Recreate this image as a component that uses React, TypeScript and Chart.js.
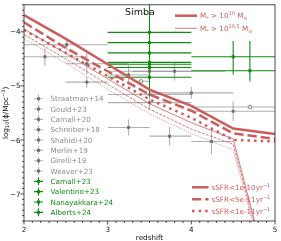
import React, { useEffect, useRef } from 'react';
import { Chart, registerables } from 'chart.js';
Chart.register(...registerables);

const FONT = '"DejaVu Sans", sans-serif';
const RED = '#cd5c5c';
const GRAY_BAR = 'rgba(128,128,128,0.62)';
const GRAY_MARK = 'rgba(105,105,105,0.9)';
const GRAY_TEXT = '#8c8c8c';
const GREEN = '#118a11';

// Simba model curves: log10(phi / Mpc^-3) vs redshift
const redshift = [2, 2.5, 3, 3.5, 4, 4.5, 5];
const m10_s1e10 = [-3.69, -4.13, -4.6, -5.07, -5.37, -5.79, -5.89];
const m10_s5e11 = [-3.825, -4.3, -4.73, -5.16, -5.46, -5.88, -5.98];
const m10_s1e11 = [-3.965, -4.39, -4.82, -5.25, -5.59, -6.0, -6.03];
const m105_s1e10 = [-3.95, -4.4, -4.87, -5.33, -5.68, -5.98, -8.95];
const m105_s5e11 = [-4.05, -4.5, -4.97, -5.43, -5.8, -6.08, -9.0];
const m105_s1e11 = [-4.13, -4.58, -5.06, -5.52, -5.88, -6.18, -9.05];

// observations: [z, logphi, zLow, zHigh, logphiLow, logphiHigh]
const straatman14 = [[2.51, -4.24, 2.0, 3.0, -4.34, -4.14], [4.0, -5.13, 3.5, 4.5, -5.24, -5.02]];
const gould23 = [[3.4, -4.915, 3.3, 3.5, -4.95, -4.88], [4.7, -5.39, 4.0, 5.3, -5.43, -5.35]];
const carnall20 = [[2.25, -4.46, 2.0, 2.75, -4.63, -4.29], [3.5, -4.73, 3.0, 4.0, -4.87, -4.59]];
const schreiber18 = [[2.75, -4.59, 2.5, 3.25, -4.79, -4.39], [4.5, -5.47, 4.0, 5.0, -5.65, -5.29]];
const shahidi20 = [[2.75, -4.93, 2.5, 3.0, -5.03, -4.83], [3.5, -5.16, 3.0, 4.0, -5.22, -5.1]];
const merlin19 = [[3.25, -5.77, 3.0, 3.5, -5.92, -5.62], [3.74, -5.93, 3.5, 4.0, -6.1, -5.76], [4.24, -6.03, 4.0, 4.5, -6.26, -5.8]];
const girelli19 = [[3.25, -4.8, 3.0, 3.5, -4.98, -4.62], [3.5, -5.31, 3.0, 4.0, -5.44, -5.18]];
const weaver23 = [[3.8, -4.73, 3.3, 4.4, -4.9, -4.56]];
const carnall23 = [[3.5, -4.01, 3.0, 4.0, -4.6, -3.3], [3.5, -4.84, 3.0, 4.0, -5.19, -4.4]];
const valentino23 = [[3.5, -4.2, 3.0, 4.0, -4.25, -4.15], [4.5, -4.46, 4.0, 5.0, -4.79, -4.17]];
const nanayakkara24 = [[3.5, -4.39, 3.0, 4.0, -4.44, -4.34], [3.5, -4.565, 3.0, 4.0, -4.6, -4.53], [4.7, -4.72, 4.0, 5.0, -4.92, -4.17]];
const alberts24 = [[3.5, -4.6, 3.0, 4.0, -4.64, -4.56], [3.5, -4.66, 3.0, 4.0, -4.7, -4.62]];

const xTicks = [2, 3, 4, 5];
const yTicks = [-4, -5, -6, -7];

const observations = [
  { label: 'Straatman+14', pts: straatman14, green: false, style: 'rect' },
  { label: 'Gould+23', pts: gould23, green: false, style: 'circle' },
  { label: 'Carnall+20', pts: carnall20, green: false, style: 'rect' },
  { label: 'Schreiber+18', pts: schreiber18, green: false, style: 'rect' },
  { label: 'Shahidi+20', pts: shahidi20, green: false, style: 'rectRot' },
  { label: 'Merlin+19', pts: merlin19, green: false, style: 'rect' },
  { label: 'Girelli+19', pts: girelli19, green: false, style: 'rect' },
  { label: 'Weaver+23', pts: weaver23, green: false, style: 'rect' },
  { label: 'Carnall+23', pts: carnall23, green: true, style: 'rect' },
  { label: 'Valentino+23', pts: valentino23, green: true, style: 'rect' },
  { label: 'Nanayakkara+24', pts: nanayakkara24, green: true, style: 'rect' },
  { label: 'Alberts+24', pts: alberts24, green: true, style: 'rect' },
];

type Seg = { t: string; s?: number; dy?: number };

function drawRich(ctx: CanvasRenderingContext2D, segs: Seg[], x: number, yBase: number, size: number, color: string, align: 'left' | 'center' | 'right') {
  let total = 0;
  const widths = segs.map((g) => {
    ctx.font = `${size * (g.s || 1)}px ${FONT}`;
    const w = ctx.measureText(g.t).width;
    total += w;
    return w;
  });
  let cx = align === 'left' ? x : align === 'center' ? x - total / 2 : x - total;
  ctx.fillStyle = color;
  ctx.textAlign = 'left';
  ctx.textBaseline = 'alphabetic';
  segs.forEach((g, i) => {
    ctx.font = `${size * (g.s || 1)}px ${FONT}`;
    ctx.fillText(g.t, cx, yBase + (g.dy || 0));
    cx += widths[i];
  });
}

const decor = {
  id: 'decor',
  beforeDatasetsDraw(chart: any) {
    const { ctx, chartArea: a } = chart;
    const x = chart.scales.x;
    const y = chart.scales.y;
    ctx.save();
    ctx.beginPath();
    ctx.rect(a.left, a.top, a.right - a.left, a.bottom - a.top);
    ctx.clip();
    ctx.lineWidth = 1.1;
    for (const s of observations) {
      ctx.strokeStyle = s.green ? GREEN : GRAY_BAR;
      for (const p of s.pts) {
        const px = x.getPixelForValue(p[0]);
        const py = y.getPixelForValue(p[1]);
        ctx.beginPath();
        ctx.moveTo(x.getPixelForValue(p[2]), py);
        ctx.lineTo(x.getPixelForValue(p[3]), py);
        ctx.moveTo(px, y.getPixelForValue(p[4]));
        ctx.lineTo(px, y.getPixelForValue(p[5]));
        ctx.stroke();
      }
    }
    ctx.restore();
  },
  afterDraw(chart: any) {
    const { ctx, chartArea: a } = chart;
    const x = chart.scales.x;
    const y = chart.scales.y;
    const FS = 7.2;
    ctx.save();
    // frame
    ctx.strokeStyle = '#222';
    ctx.lineWidth = 0.8;
    ctx.strokeRect(a.left, a.top, a.right - a.left, a.bottom - a.top);
    // ticks
    ctx.beginPath();
    for (let k = 0; k <= 30; k++) {
      const v = 2 + k * 0.1;
      const px = x.getPixelForValue(v);
      const major = k % 10 === 0;
      ctx.moveTo(px, a.bottom);
      ctx.lineTo(px, a.bottom + (major ? 3.5 : 2));
    }
    for (let k = 0; k <= 40; k++) {
      const v = -7.5 + k * 0.1;
      const py = y.getPixelForValue(v);
      const major = (k - 5) % 10 === 0;
      ctx.moveTo(a.left, py);
      ctx.lineTo(a.left - (major ? 3.5 : 2), py);
    }
    ctx.stroke();
    // tick labels
    for (const t of xTicks) {
      drawRich(ctx, [{ t: String(t) }], x.getPixelForValue(t), 231.5, FS, '#111', 'center');
    }
    for (const t of yTicks) {
      drawRich(ctx, [{ t: '\u2212' + String(Math.abs(t)) }], 20.5, y.getPixelForValue(t) + 2.6, FS, '#111', 'right');
    }
    // axis titles
    drawRich(ctx, [{ t: 'redshift' }], (a.left + a.right) / 2, 240, FS, '#111', 'center');
    ctx.save();
    ctx.translate(5.2, (a.top + a.bottom) / 2);
    ctx.rotate(-Math.PI / 2);
    drawRich(ctx, [{ t: 'log' }, { t: '10', s: 0.7, dy: 1.6 }, { t: '(\u03d5/Mpc' }, { t: '\u22123', s: 0.7, dy: -3 }, { t: ')' }], 0, 2.6, FS, '#111', 'center');
    ctx.restore();
    // title
    drawRich(ctx, [{ t: 'Simba' }], 125, 14.5, 9.5, '#111', 'left');
    // mass legend
    const massRows = [
      { w: 2.5, segs: [{ t: 'M' }, { t: '*', s: 0.7, dy: 2 }, { t: ' > 10' }, { t: '10', s: 0.7, dy: -3 }, { t: ' M' }, { t: '\u2299', s: 0.7, dy: 2 }] },
      { w: 0.8, segs: [{ t: 'M' }, { t: '*', s: 0.7, dy: 2 }, { t: ' > 10' }, { t: '10.5', s: 0.7, dy: -3 }, { t: ' M' }, { t: '\u2299', s: 0.7, dy: 2 }] },
    ];
    massRows.forEach((r, i) => {
      const cy = 15.7 + i * 12.6;
      ctx.strokeStyle = RED;
      ctx.lineWidth = r.w;
      ctx.setLineDash([]);
      ctx.beginPath();
      ctx.moveTo(175, cy);
      ctx.lineTo(197, cy);
      ctx.stroke();
      drawRich(ctx, r.segs, 200, cy + 2.6, FS, RED, 'left');
    });
    // sSFR legend
    const ssfrRows = [
      { dash: [] as number[], t: 'sSFR<1e-10yr' },
      { dash: [9.25, 4], t: 'sSFR<5e-11yr' },
      { dash: [2.5, 4.1], t: 'sSFR<1e-11yr' },
    ];
    ssfrRows.forEach((r, i) => {
      const cy = 187.3 + i * 11.9;
      ctx.strokeStyle = RED;
      ctx.lineWidth = 2.5;
      ctx.setLineDash(r.dash);
      ctx.beginPath();
      ctx.moveTo(192, cy);
      ctx.lineTo(208.5, cy);
      ctx.stroke();
      ctx.setLineDash([]);
      drawRich(ctx, [{ t: r.t }, { t: '\u22121', s: 0.7, dy: -3 }], 211.5, cy + 2.6, FS, RED, 'left');
    });
    // observation legend
    observations.forEach((s, i) => {
      const cy = 98.7 + i * 10.33;
      const col = s.green ? GREEN : GRAY_BAR;
      ctx.strokeStyle = col;
      ctx.lineWidth = 1.1;
      ctx.beginPath();
      ctx.moveTo(34, cy);
      ctx.lineTo(43, cy);
      ctx.moveTo(38.5, cy - 4);
      ctx.lineTo(38.5, cy + 4);
      ctx.stroke();
      ctx.fillStyle = s.green ? GREEN : GRAY_MARK;
      ctx.fillRect(37, cy - 1.5, 3, 3);
      drawRich(ctx, [{ t: s.label }], 50.5, cy + 2.6, FS, s.green ? GREEN : GRAY_TEXT, 'left');
    });
    ctx.restore();
  },
};

function lineDs(ys: number[], width: number, dash: number[]) {
  return {
    type: 'scatter' as const,
    data: redshift.map((z, i) => ({ x: z, y: ys[i] })),
    showLine: true,
    borderColor: RED,
    backgroundColor: RED,
    borderWidth: width,
    borderDash: dash,
    pointRadius: 0,
    tension: 0,
    fill: false,
  };
}

export default function App() {
  const ref = useRef<HTMLCanvasElement>(null);
  useEffect(() => {
    const markerSets = observations.map((s) => ({
      type: 'scatter' as const,
      data: s.pts.map((p) => ({ x: p[0], y: p[1] })),
      showLine: false,
      pointStyle: s.style,
      pointRadius: s.style === 'circle' ? 1.8 : 2.1,
      backgroundColor: s.style === 'circle' ? 'rgba(235,235,235,1)' : s.green ? GREEN : GRAY_MARK,
      borderColor: s.green ? GREEN : GRAY_MARK,
      borderWidth: s.style === 'circle' ? 0.8 : 0,
    }));
    const chart = new Chart(ref.current as HTMLCanvasElement, {
      type: 'scatter',
      data: {
        datasets: [
          lineDs(m10_s1e10, 2.5, []),
          lineDs(m10_s5e11, 2.5, [9.25, 4]),
          lineDs(m10_s1e11, 2.5, [2.5, 4.1]),
          lineDs(m105_s1e10, 0.8, []),
          lineDs(m105_s5e11, 0.8, [2.96, 1.28]),
          lineDs(m105_s1e11, 0.8, [0.8, 1.32]),
          ...markerSets,
        ] as any,
      },
      options: {
        animation: false,
        responsive: false,
        maintainAspectRatio: false,
        events: [],
        layout: { padding: { left: 24, top: 3, right: 6, bottom: 20 } },
        plugins: { legend: { display: false }, tooltip: { enabled: false } },
        scales: {
          x: { type: 'linear', min: 2, max: 5, display: false },
          y: { type: 'linear', min: -7.5, max: -3.5, display: false },
        },
      },
      plugins: [decor],
    });
    return () => chart.destroy();
  }, []);
  return (
    <div style={{ position: 'fixed', left: 0, top: 0, width: 281, height: 241, background: '#fff' }}>
      <canvas ref={ref} width={281} height={241} style={{ width: 281, height: 241, display: 'block' }} />
    </div>
  );
}
